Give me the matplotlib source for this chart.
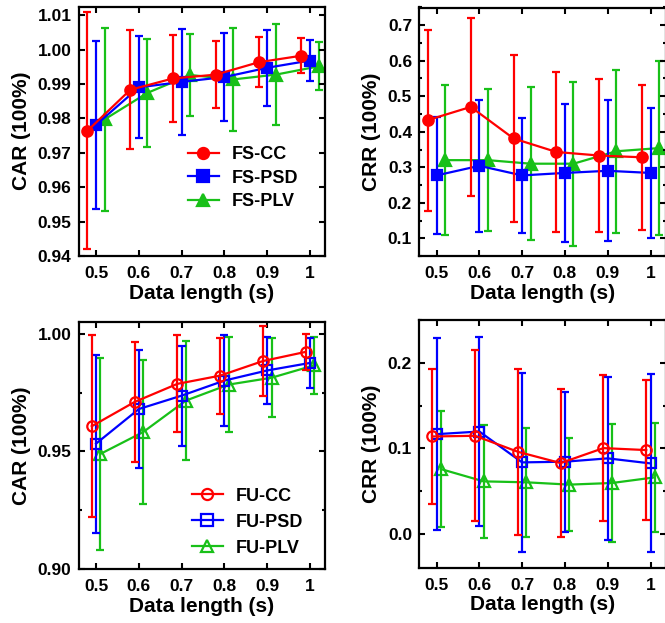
import numpy as np
import matplotlib.pyplot as plt
from matplotlib.lines import Line2D
from matplotlib.ticker import MultipleLocator, FixedLocator

plt.rcParams["font.family"] = ["Liberation Sans", "DejaVu Sans"]
plt.rcParams["font.weight"] = "bold"

lengths = [0.5, 0.6, 0.7, 0.8, 0.9, 1.0]
length_labels = ["0.5", "0.6", "0.7", "0.8", "0.9", "1"]

# FS (filled markers) - CAR
fs_car_cc = [0.9764, 0.9883, 0.9916, 0.9927, 0.9963, 0.9982]
fs_car_cc_sd = [0.0345, 0.0173, 0.0127, 0.0097, 0.0073, 0.0051]
fs_car_psd = [0.9781, 0.9890, 0.9906, 0.9920, 0.9947, 0.9968]
fs_car_psd_sd = [0.0243, 0.0148, 0.0153, 0.0128, 0.0110, 0.0060]
fs_car_plv = [0.9797, 0.9874, 0.9926, 0.9913, 0.9927, 0.9951]
fs_car_plv_sd = [0.0265, 0.0157, 0.0120, 0.0149, 0.0147, 0.0070]

# FS - CRR
fs_crr_cc = [0.433, 0.470, 0.381, 0.343, 0.333, 0.328]
fs_crr_cc_sd = [0.255, 0.250, 0.234, 0.225, 0.216, 0.205]
fs_crr_psd = [0.277, 0.304, 0.277, 0.284, 0.290, 0.284]
fs_crr_psd_sd = [0.165, 0.186, 0.163, 0.194, 0.199, 0.184]
fs_crr_plv = [0.320, 0.320, 0.310, 0.310, 0.345, 0.354]
fs_crr_plv_sd = [0.211, 0.200, 0.215, 0.231, 0.229, 0.246]

# FU (open markers) - CAR
fu_car_cc = [0.9607, 0.9710, 0.9787, 0.9822, 0.9884, 0.9923]
fu_car_cc_sd = [0.0387, 0.0257, 0.0206, 0.0162, 0.0150, 0.0075]
fu_car_psd = [0.9533, 0.9680, 0.9737, 0.9801, 0.9844, 0.9876]
fu_car_psd_sd = [0.0378, 0.0250, 0.0213, 0.0193, 0.0142, 0.0107]
fu_car_plv = [0.9489, 0.9582, 0.9716, 0.9784, 0.9813, 0.9866]
fu_car_plv_sd = [0.0410, 0.0307, 0.0254, 0.0203, 0.0167, 0.0122]

# FU - CRR
fu_crr_cc = [0.1138, 0.1146, 0.0959, 0.0827, 0.1002, 0.0979]
fu_crr_cc_sd = [0.079, 0.100, 0.097, 0.087, 0.085, 0.082]
fu_crr_psd = [0.1165, 0.1196, 0.0835, 0.0843, 0.0882, 0.0823]
fu_crr_psd_sd = [0.112, 0.111, 0.105, 0.082, 0.095, 0.104]
fu_crr_plv = [0.0757, 0.0613, 0.0602, 0.0575, 0.0594, 0.0660]
fu_crr_plv_sd = [0.068, 0.066, 0.064, 0.054, 0.069, 0.064]

RED = "#ff0000"
BLUE = "#0000ff"
GREEN = "#18c018"
W, H = 665, 623


def add_axes(fig, left, top, right, bottom):
    return fig.add_axes([left / W, 1 - bottom / H, (right - left) / W, (bottom - top) / H])


def style(ax, ylabel, ylim, major, minor, fmt):
    ax.set_xlim(0.459, 1.035)
    ax.set_ylim(*ylim)
    ax.xaxis.set_major_locator(FixedLocator(lengths))
    ax.set_xticklabels(length_labels)
    ax.yaxis.set_major_locator(MultipleLocator(major))
    if minor:
        ax.yaxis.set_minor_locator(MultipleLocator(minor))
    ax.yaxis.set_major_formatter(plt.FuncFormatter(lambda v, p: fmt.format(v)))
    ax.tick_params(which="both", direction="in", top=True, right=True, width=1.5)
    ax.tick_params(which="major", length=4.5, labelsize=12.5, pad=5)
    ax.tick_params(which="minor", length=2.5)
    ax.tick_params(axis="x", pad=7)
    for s in ax.spines.values():
        s.set_linewidth(1.6)
    ax.set_xlabel("Data length (s)", fontsize=15, fontweight="bold", labelpad=2)
    ax.set_ylabel(ylabel, fontsize=15, fontweight="bold", labelpad=5)


def draw(ax, series, offset, open_marker):
    handles = []
    for k, (vals, sd, color, marker, label) in enumerate(series):
        x = np.array(lengths) + offset[k]
        ms = 8 if marker == "^" else 7.5
        mfc = "none" if open_marker else color
        ax.errorbar(
            x, vals, yerr=sd, color=color, marker=marker, ms=ms,
            mfc=mfc, mew=1.6, lw=1.6,
            elinewidth=1.6, capsize=2.6, capthick=1.6, zorder=3 - k,
        )
        handles.append(Line2D([], [], color=color, marker=marker, ms=ms + 0.5,
                              mfc=mfc, mew=1.6, lw=1.6, label=label))
    return handles


fig = plt.figure(figsize=(W / 100, H / 100), dpi=100)

ax1 = add_axes(fig, 78.5, 6.5, 325, 256)
ax2 = add_axes(fig, 419, 7.5, 665.5, 256)
ax3 = add_axes(fig, 78.5, 322, 325, 569)
ax4 = add_axes(fig, 419, 320, 665.5, 568)

fs_off = [-0.02, 0.0, 0.02]
fu_off = [-0.01, 0.0, 0.01]

h = draw(ax1, [
    (fs_car_cc, fs_car_cc_sd, RED, "o", "FS-CC"),
    (fs_car_psd, fs_car_psd_sd, BLUE, "s", "FS-PSD"),
    (fs_car_plv, fs_car_plv_sd, GREEN, "^", "FS-PLV"),
], fs_off, False)
style(ax1, "CAR (100%)", (0.94, 1.0125), 0.01, None, "{:.2f}")
ax1.legend(handles=h, loc="lower right", bbox_to_anchor=(0.89, 0.185), frameon=False,
           borderpad=0, borderaxespad=0, handlelength=1.7, handletextpad=0.7,
           labelspacing=0.35, prop={"size": 13, "weight": "bold"})

draw(ax2, [
    (fs_crr_cc, fs_crr_cc_sd, RED, "o", "FS-CC"),
    (fs_crr_psd, fs_crr_psd_sd, BLUE, "s", "FS-PSD"),
    (fs_crr_plv, fs_crr_plv_sd, GREEN, "^", "FS-PLV"),
], fs_off, False)
style(ax2, "CRR (100%)", (0.05, 0.75), 0.1, 0.05, "{:.1f}")

h = draw(ax3, [
    (fu_car_cc, fu_car_cc_sd, RED, "o", "FU-CC"),
    (fu_car_psd, fu_car_psd_sd, BLUE, "s", "FU-PSD"),
    (fu_car_plv, fu_car_plv_sd, GREEN, "^", "FU-PLV"),
], fu_off, True)
style(ax3, "CAR (100%)", (0.90, 1.005), 0.05, 0.025, "{:.2f}")
ax3.legend(handles=h, loc="lower right", bbox_to_anchor=(0.91, 0.05), frameon=False,
           borderpad=0, borderaxespad=0, handlelength=1.7, handletextpad=0.7,
           labelspacing=0.5, prop={"size": 13, "weight": "bold"})

draw(ax4, [
    (fu_crr_cc, fu_crr_cc_sd, RED, "o", "FU-CC"),
    (fu_crr_psd, fu_crr_psd_sd, BLUE, "s", "FU-PSD"),
    (fu_crr_plv, fu_crr_plv_sd, GREEN, "^", "FU-PLV"),
], fu_off, True)
style(ax4, "CRR (100%)", (-0.04, 0.25), 0.1, 0.05, "{:.1f}")

fig.savefig("out.png", dpi=100)
